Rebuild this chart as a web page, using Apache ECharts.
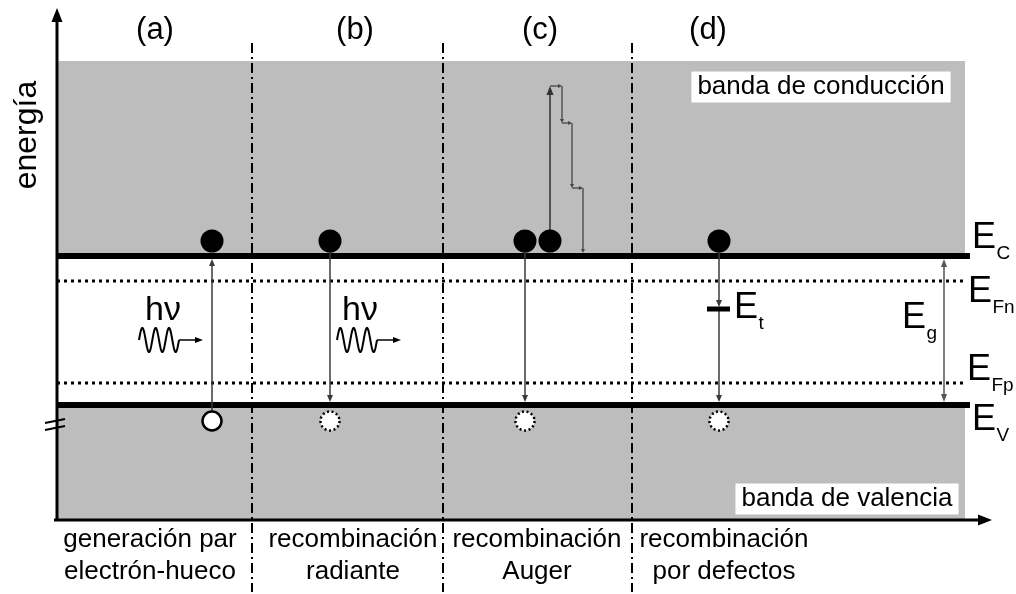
<!DOCTYPE html>
<html><head><meta charset="utf-8">
<script src="https://cdn.jsdelivr.net/npm/echarts@6/dist/echarts.min.js"></script>
<style>html,body{margin:0;padding:0;background:#fff}#c{width:1016px;height:594px}</style>
</head><body><div id="c"></div>
<script>
// ---------- diagram data (x = horizontal position, y = energy, arbitrary units) ----------
const axisBase = 74;            // energy of horizontal axis
const axisTop = 586;            // tip of energy axis
const axisRight = 992;          // tip of horizontal axis
const bandTop = 533;            // top of drawn conduction band
const bandLeft = 57, bandRight = 965;
const solidRight = 970, dottedRight = 963;
const levelSubs = ['C', 'Fn', 'Fp', 'V'];
const levelEnergy = [338, 313, 211, 189];     // Ec, EFn, EFp, Ev
const trapEnergy = 285;                        // Et
const trapX = [707, 730];
const electronEnergy = 353;
const holeEnergy = 173;
const electronX = [212, 330, 525, 550, 719];
const holeX = [212, 330, 525, 719];
const holeSolid = [true, false, false, false];
const panelLabels = ['(a)', '(b)', '(c)', '(d)'];
const panelX = [155, 355, 540, 708];
const panelE = 564;
const dividerX = [252, 443, 632];
const dividerE = [551, 2];
const processLine1 = ['generación par', 'recombinación', 'recombinación', 'recombinación'];
const processLine2 = ['electrón-hueco', 'radiante', 'Auger', 'por defectos'];
const processX = [150, 353, 537, 724];
const processE = [54, 22];
const transitionX = [212, 330, 525, 719, 719];
const transitionFrom = [183, 342, 342, 342, 283];
const transitionTo = [335, 192, 192, 287, 192];
const gapArrowX = 944;
const gapArrowE = [192, 335];
const augerX = [550, 562, 572, 583];
const augerE = [508, 471, 406];
const photonX = [139, 337];
const photonE = 254;
const photonLabelX = [163, 360];
const photonLabelE = 283;
const bandNames = ['banda de conducción', 'banda de valencia'];
const bandNameX = [821, 847];
const bandNameE = [507, 95];
const subLabelSubs = ['C', 'Fn', 'Fp', 'V', 'g', 't'];
const subLabelX = [972, 968, 967, 972, 902, 734];
const subLabelE = [356, 302, 224, 174, 276, 286];
const breakMarkX = [45, 65];
const breakMarkE = [[171, 175], [164, 168]];

// ---------- drawing helpers ----------
const FONT = "'Liberation Sans', Arial, sans-serif";
function seg(a, b, w, color, dash) {
  return {type: 'line', shape: {x1: a[0], y1: a[1], x2: b[0], y2: b[1]},
    style: {stroke: color, lineWidth: w, lineDash: dash || null, lineCap: 'butt'}};
}
function head(a, b, len, wid, color) {
  const dx = b[0] - a[0], dy = b[1] - a[1], L = Math.hypot(dx, dy) || 1;
  const ux = dx / L, uy = dy / L, bx = b[0] - ux * len, by = b[1] - uy * len;
  return {type: 'polygon', shape: {points: [[b[0], b[1]], [bx - uy * wid / 2, by + ux * wid / 2], [bx + uy * wid / 2, by - ux * wid / 2]]},
    style: {fill: color}};
}
function arrow(a, b, w, color, len, wid, both) {
  const dx = b[0] - a[0], dy = b[1] - a[1], L = Math.hypot(dx, dy) || 1;
  const ux = dx / L, uy = dy / L;
  const e = [b[0] - ux * len * 0.8, b[1] - uy * len * 0.8];
  const s = both ? [a[0] + ux * len * 0.8, a[1] + uy * len * 0.8] : a;
  const els = [seg(s, e, w, color), head(a, b, len, wid, color)];
  if (both) els.push(head(b, a, len, wid, color));
  return els;
}
function txt(x, y, text, size, extra) {
  return Object.assign({type: 'text', x: x, y: y,
    style: Object.assign({text: text, fill: '#000', fontSize: size, fontFamily: FONT, align: 'center', verticalAlign: 'middle'}, (extra && extra.style) || {})},
    (extra && extra.el) || {});
}
function custom(name, data, z, fn) {
  return {type: 'custom', name: name, coordinateSystem: 'cartesian2d', data: data, z: z, silent: true, clip: false,
    renderItem: function (params, api) { return {type: 'group', children: fn(params.dataIndex, api)}; }};
}

const series = [
  custom('bands', [[bandLeft, levelEnergy[0], bandRight, bandTop], [bandLeft, axisBase, bandRight, levelEnergy[3]]], 1, function (i, api) {
    const p1 = api.coord([api.value(0), api.value(1)]), p2 = api.coord([api.value(2), api.value(3)]);
    return [{type: 'rect', shape: {x: Math.min(p1[0], p2[0]), y: Math.min(p1[1], p2[1]), width: Math.abs(p2[0] - p1[0]), height: Math.abs(p2[1] - p1[1])},
      style: {fill: '#bdbdbd'}}];
  }),
  custom('levels', levelEnergy.map(function (e, i) { return [bandLeft, e, (i === 0 || i === 3) ? solidRight : dottedRight, e]; }), 3, function (i, api) {
    const a = api.coord([api.value(0), api.value(1)]), b = api.coord([api.value(2), api.value(3)]);
    if (i === 0 || i === 3) return [seg(a, b, 6, '#000')];
    return [seg(a, b, 3, '#000', [3, 4])];
  }),
  custom('dividers', dividerX.map(function (x) { return [x, dividerE[0], x, dividerE[1]]; }), 4, function (i, api) {
    const a = api.coord([api.value(0), api.value(1)]), b = api.coord([api.value(2), api.value(3)]);
    return [seg(a, b, 2, '#000', [10, 4, 2, 4])];
  }),
  custom('axes', [[bandLeft, axisBase - 1, bandLeft, axisTop], [bandLeft - 3, axisBase, axisRight, axisBase]], 6, function (i, api) {
    const a = api.coord([api.value(0), api.value(1)]), b = api.coord([api.value(2), api.value(3)]);
    return arrow(a, b, 3, '#000', 14, 11, false);
  }),
  custom('break', breakMarkE.map(function (e) { return [breakMarkX[0], e[0], breakMarkX[1], e[1]]; }), 7, function (i, api) {
    const a = api.coord([api.value(0), api.value(1)]), b = api.coord([api.value(2), api.value(3)]);
    return [seg(a, b, 2, '#000')];
  }),
  custom('transitions', transitionX.map(function (x, i) { return [x, transitionFrom[i], x, transitionTo[i]]; }), 8, function (i, api) {
    const a = api.coord([api.value(0), api.value(1)]), b = api.coord([api.value(2), api.value(3)]);
    return arrow(a, b, 1.5, '#3a3a3a', 7, 6, false);
  }),
  custom('gap', [[gapArrowX, gapArrowE[0], gapArrowX, gapArrowE[1]]], 8, function (i, api) {
    const a = api.coord([api.value(0), api.value(1)]), b = api.coord([api.value(2), api.value(3)]);
    return arrow(a, b, 1.5, '#555', 8, 6, true);
  }),
  custom('auger', (function () {
    const pts = [[augerX[0], electronEnergy], [augerX[0], augerE[0]], [augerX[1], augerE[0]], [augerX[1], augerE[1]],
      [augerX[2], augerE[1]], [augerX[2], augerE[2]], [augerX[3], augerE[2]], [augerX[3], levelEnergy[0] + 3]];
    const d = [];
    for (let k = 0; k < pts.length - 1; k++) d.push([pts[k][0], pts[k][1], pts[k + 1][0], pts[k + 1][1]]);
    return d;
  })(), 8, function (i, api) {
    const a = api.coord([api.value(0), api.value(1)]), b = api.coord([api.value(2), api.value(3)]);
    return i === 0 ? arrow(a, b, 1.5, '#333', 9, 7, false) : arrow(a, b, 1.3, '#444', 4, 4, false);
  }),
  custom('trap', [[trapX[0], trapEnergy, trapX[1], trapEnergy]], 9, function (i, api) {
    const a = api.coord([api.value(0), api.value(1)]), b = api.coord([api.value(2), api.value(3)]);
    return [seg(a, b, 5, '#000')];
  }),
  custom('holes', holeX.map(function (x) { return [x, holeEnergy]; }), 10, function (i, api) {
    const p = api.coord([api.value(0), api.value(1)]);
    return [{type: 'circle', shape: {cx: p[0], cy: p[1], r: 9.5},
      style: {fill: '#fff', stroke: '#000', lineWidth: 2.5, lineDash: holeSolid[i] ? null : [2, 2.6]}}];
  }),
  {type: 'scatter', name: 'electrons', data: electronX.map(function (x) { return [x, electronEnergy]; }), symbol: 'circle', symbolSize: 23,
    itemStyle: {color: '#000', opacity: 1}, z: 11, silent: true},
  custom('photons', photonX.map(function (x) { return [x, photonE]; }), 10, function (i, api) {
    const p = api.coord([api.value(0), api.value(1)]);
    const pts = [];
    for (let k = 0; k <= 90; k++) pts.push([p[0] + k / 90 * 40, p[1] - 12 * Math.sin(2 * Math.PI * 3 * k / 90)]);
    return [{type: 'polyline', shape: {points: pts}, style: {stroke: '#000', lineWidth: 2, fill: null}}]
      .concat(arrow([p[0] + 40, p[1]], [p[0] + 64, p[1]], 1.5, '#000', 8, 6, false));
  }),
  custom('texts', [[0, 0]], 20, function (i, api) {
    const els = [];
    panelLabels.forEach(function (t, k) { const p = api.coord([panelX[k], panelE]); els.push(txt(p[0], p[1], t, 31)); });
    processLine1.forEach(function (t, k) {
      const p1 = api.coord([processX[k], processE[0]]), p2 = api.coord([processX[k], processE[1]]);
      els.push(txt(p1[0], p1[1], t, 26)); els.push(txt(p2[0], p2[1], processLine2[k], 26));
    });
    bandNames.forEach(function (t, k) {
      const p = api.coord([bandNameX[k], bandNameE[k]]);
      els.push(txt(p[0], p[1], t, 26, {style: {backgroundColor: '#fff', padding: [3, 6, 2, 6]}}));
    });
    const pe = api.coord([27, 459]);
    els.push(txt(pe[0], pe[1], 'energía', 32, {el: {rotation: Math.PI / 2}}));
    photonLabelX.forEach(function (x) { const p = api.coord([x, photonLabelE]); els.push(txt(p[0], p[1], 'hν', 34)); });
    subLabelSubs.forEach(function (s, k) {
      const p = api.coord([subLabelX[k], subLabelE[k]]);
      const size = 36;
      els.push(txt(p[0], p[1], 'E', size, {style: {align: 'left'}}));
      els.push(txt(p[0] + size * 0.68, p[1] + 16, s, 19, {style: {align: 'left'}}));
    });
    return els;
  })
];

const chart = echarts.init(document.getElementById('c'), null, {renderer: 'canvas'});
chart.setOption({
  animation: false,
  backgroundColor: '#fff',
  grid: {left: 0, right: 0, top: 0, bottom: 0},
  xAxis: {type: 'value', min: 0, max: 1016, show: false},
  yAxis: {type: 'value', min: 0, max: 594, show: false},
  series: series
});
</script></body></html>
